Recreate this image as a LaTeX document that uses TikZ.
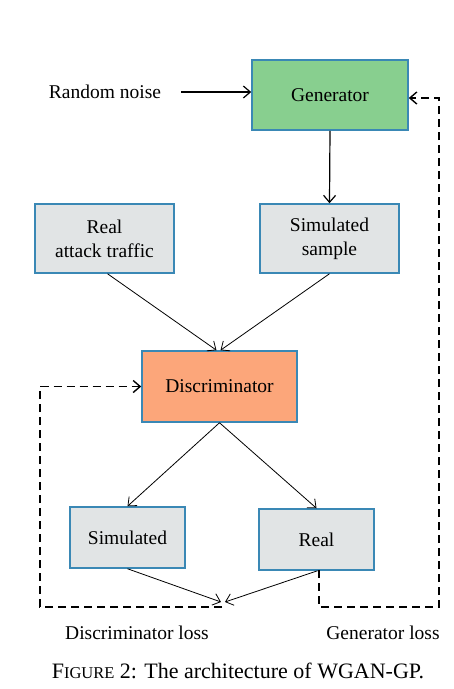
\documentclass[tikz,border=0pt]{standalone}
\usepackage{fontspec}
\setmainfont{Liberation Serif}
\usetikzlibrary{arrows.meta}
\definecolor{bordc}{HTML}{3A88B5}
\definecolor{genc}{HTML}{88CF8F}
\definecolor{grayc}{HTML}{E1E4E5}
\definecolor{discc}{HTML}{FCA67A}
\tikzset{
  boxn/.style={draw=bordc, line width=1.5pt, inner sep=0pt, align=center, font=\fontsize{19.5}{24}\selectfont},
  lbl/.style={inner sep=0pt, font=\fontsize{19.5}{24}\selectfont},
  arr/.style={-{Straight Barb[length=7pt,width=12pt]}, line width=0.8pt},
  darr/.style={dash pattern=on 8pt off 5pt, line width=1.4pt},
}
\begin{document}
\begin{tikzpicture}[x=1pt,y=-1pt]
\useasboundingbox (0,0) rectangle (454,689);
\fill[white] (0,0) rectangle (454,689);
\node[boxn, fill=genc, minimum width=156pt, minimum height=70pt] (gen) at (330,95) {Generator};
\node[lbl] (noise) at (105,92) {Random noise};
\node[boxn, fill=grayc, minimum width=139pt, minimum height=69pt] (rat) at (104.5,238.5) {Real\\attack traffic};
\node[boxn, fill=grayc, minimum width=139pt, minimum height=69pt] (ss) at (329.5,238.5) {Simulated\\sample};
\node[boxn, fill=discc, minimum width=155pt, minimum height=71pt] (disc) at (219.5,386.5) {Discriminator};
\node[boxn, fill=grayc, minimum width=115pt, minimum height=61pt] (sim) at (127.5,537.5) {Simulated};
\node[boxn, fill=grayc, minimum width=115pt, minimum height=61pt] (real) at (316.5,539.5) {Real};
\node[lbl] (dloss) at (137,633) {Discriminator loss};
\node[lbl] (gloss) at (383,633) {Generator loss};
\node[inner sep=0pt, font=\fontsize{22}{26}\selectfont] (cap) at (238,671) {F{\fontsize{16.5}{20}\selectfont IGURE} 2: The architecture of WGAN-GP.};
\coordinate (nstart) at (181,92);
\coordinate (lossL) at (221,602);
\coordinate (lossR) at (225,602);
\coordinate (dstart) at (222,607);
\coordinate (dcorner) at (40,607);
\coordinate (gstart) at (319,570);
\coordinate (gcorner) at (439,607);
\draw[arr, line width=1.2pt] (nstart) -- (gen.west |- nstart);
\draw[arr, line width=1.2pt] (gen.south) -- (ss.north);
\draw[arr] ([xshift=3pt]rat.south) -- ([xshift=-3pt]disc.north);
\draw[arr] (ss.south) -- ([xshift=1pt]disc.north);
\draw[arr] (disc.south) -- (sim.north);
\draw[arr] (disc.south) -- (real.north);
\draw[arr] (sim.south) -- (lossL);
\draw[arr] ([xshift=1pt]real.south) -- (lossR);
\draw[darr, -{Straight Barb[length=7pt,width=12pt]}] (dstart) -- (dcorner) |- (disc.west);
\draw[darr, -{Straight Barb[length=7pt,width=12pt]}] (gstart) |- (gcorner) |- ([yshift=-3pt]gen.east);
\end{tikzpicture}
\end{document}
